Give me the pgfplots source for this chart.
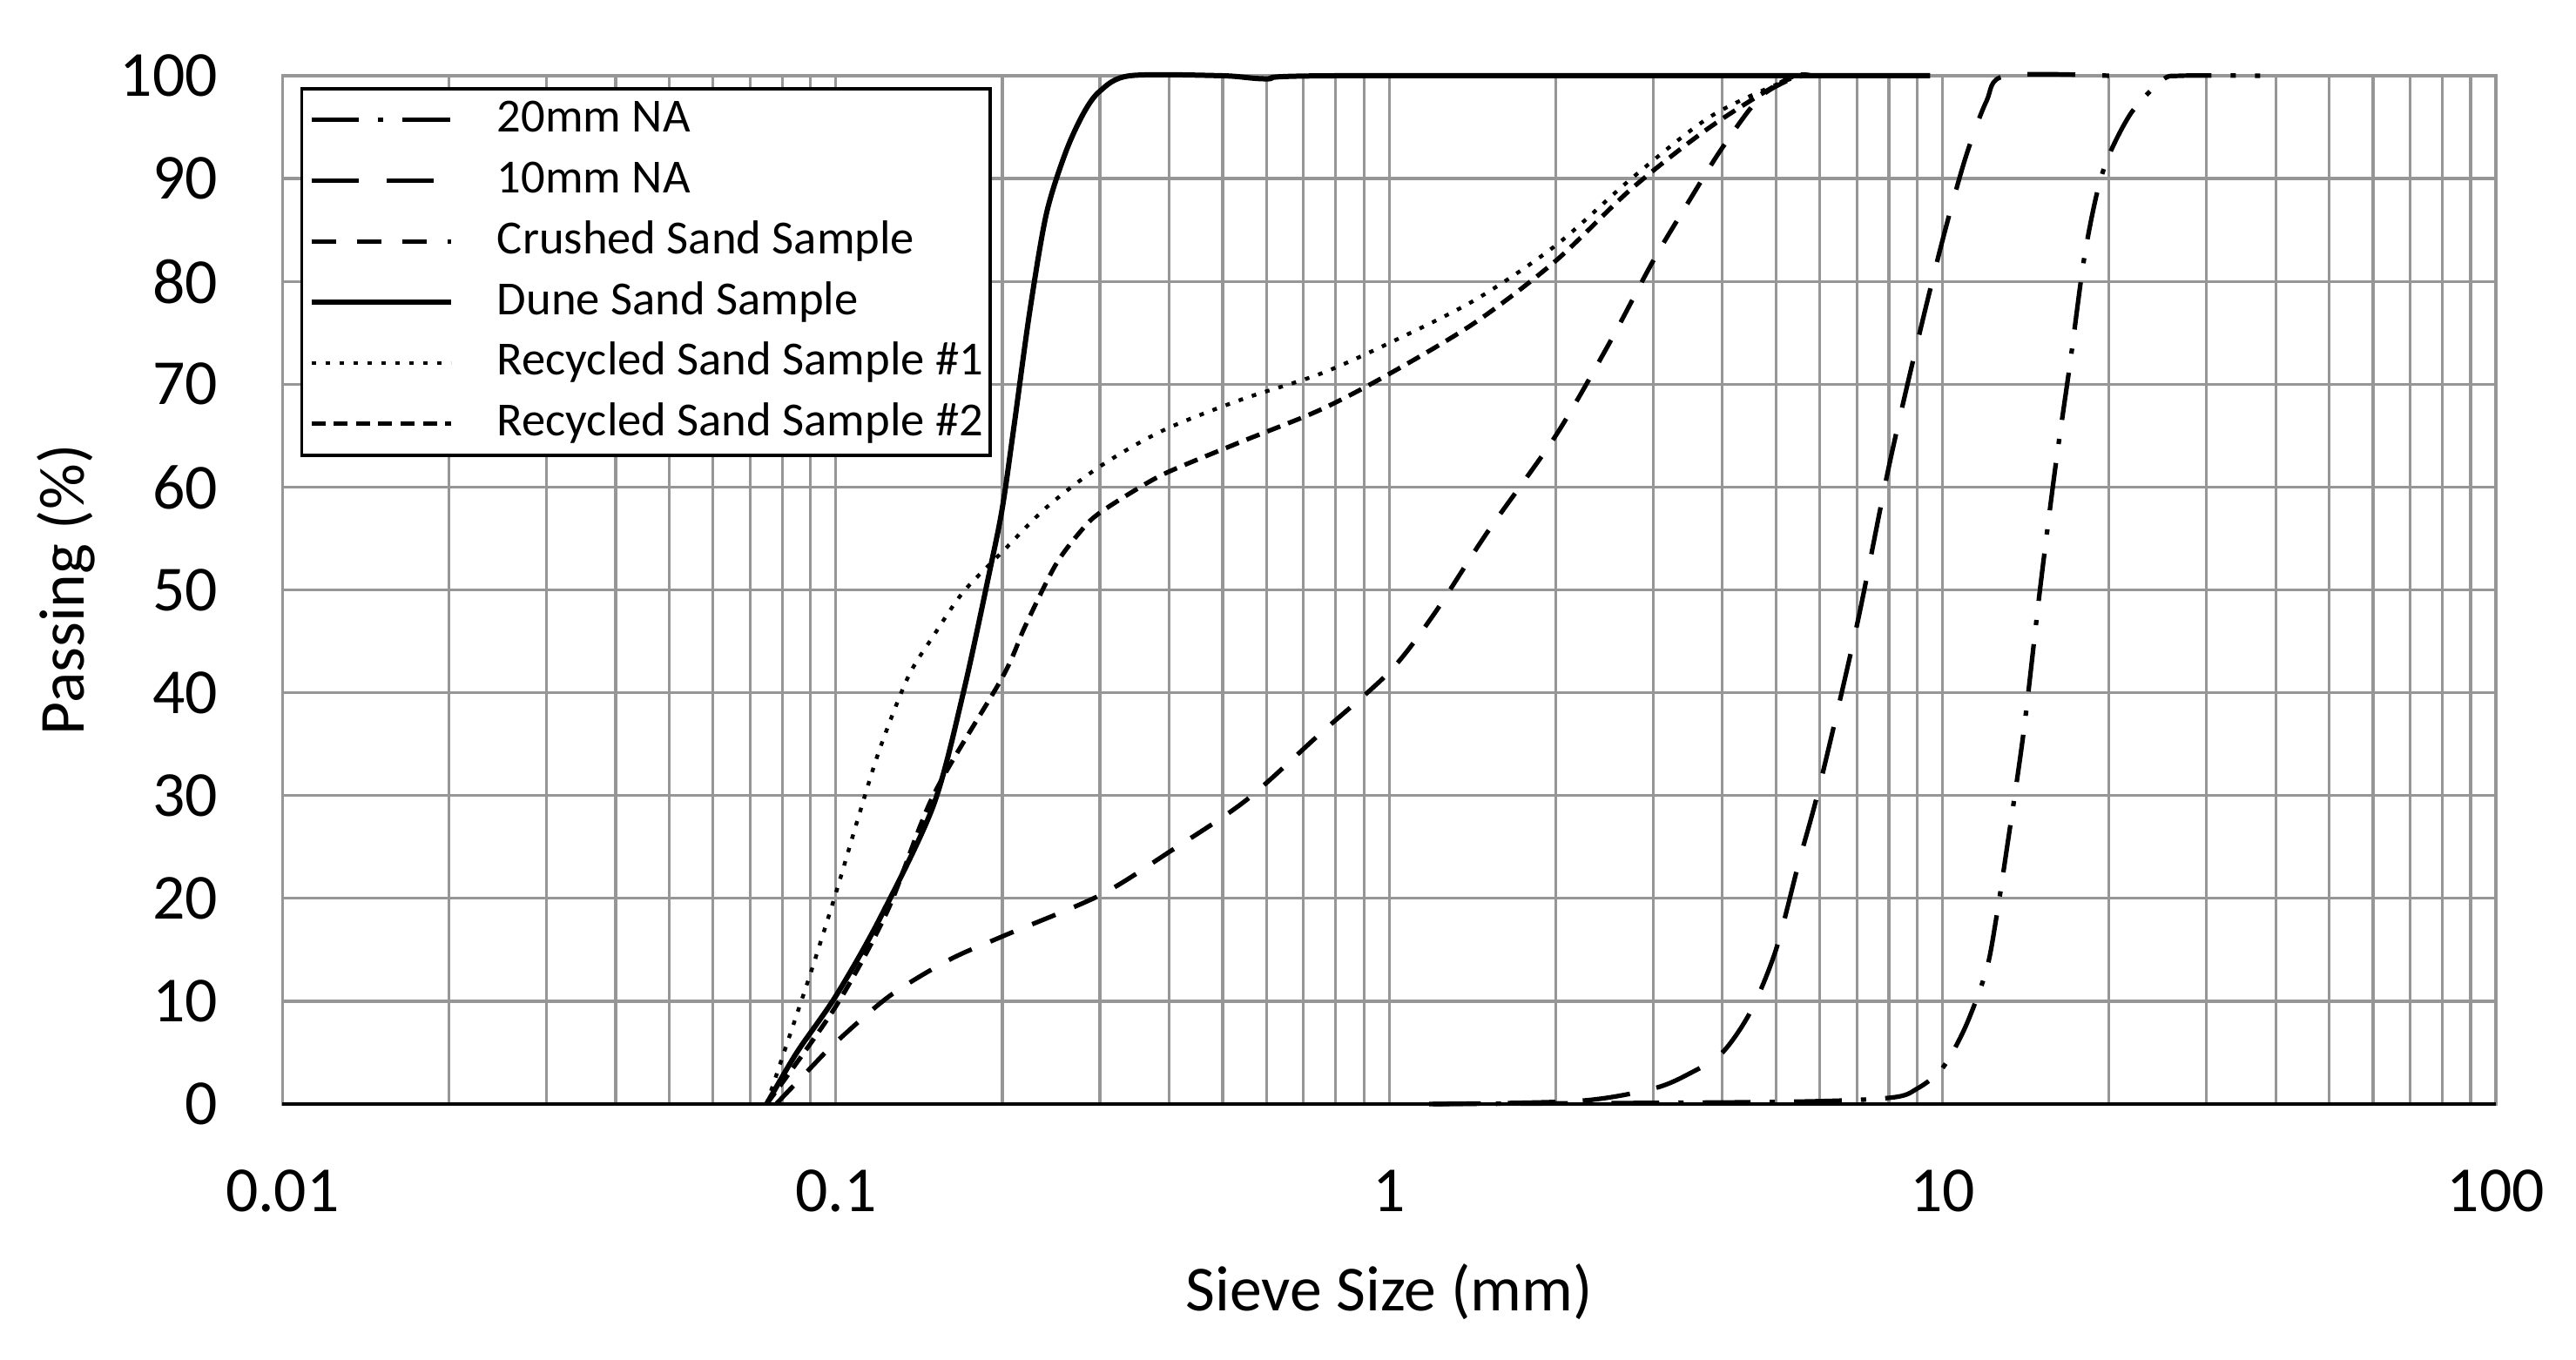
\documentclass[border=0pt]{standalone}
\usepackage{fontspec}
\setmainfont{Carlito}
\usepackage{pgfplots}
\pgfplotsset{compat=1.18}
\definecolor{gridc}{RGB}{150,150,150}
\begin{document}
\begin{tikzpicture}
\path[use as bounding box] (-81.1bp,-73.5bp) rectangle (658.4bp,317bp);
\begin{axis}[
 at={(0,0)}, anchor=south west,
 scale only axis, width=635.4bp, height=295.25bp,
 xmode=log, xmin=0.01, xmax=100, ymin=0, ymax=100,
 xtick={0.01,0.1,1,10,100}, xticklabels={0.01,0.1,1,10,100},
 minor xtick={0.02,0.03,0.04,0.05,0.06,0.07,0.08,0.09,0.2,0.3,0.4,0.5,0.6,0.7,0.8,0.9,2,3,4,5,6,7,8,9,20,30,40,50,60,70,80,90},
 ytick={0,10,...,100},
 grid=both,
 major grid style={gridc, line width=0.8bp},
 minor grid style={gridc, line width=0.8bp},
 axis line style={gridc, line width=0.8bp},
 major tick length=0pt, minor tick length=0pt,
 tick label style={font=\fontsize{18.5}{20}\selectfont},
 /pgf/number format/assume math mode=true,
 xticklabel style={anchor=center, yshift=-25bp, inner sep=0pt},
 yticklabel style={anchor=east, xshift=-18.4bp, inner sep=0pt},
 xlabel={Sieve Size (mm)}, ylabel={Passing (\%)},
 label style={font=\fontsize{18.5}{20}\selectfont},
 xlabel style={at={(axis description cs:0.5,-0.1829)}, anchor=center},
 ylabel style={at={(axis description cs:-0.0979,0.5)}, anchor=center},
 clip=false,
 legend cell align=left,
 legend style={at={(0.008,0.989)}, anchor=north west, draw=black, line width=0.9bp,
   font=\fontsize{13.7}{15}\selectfont, inner xsep=2bp, inner ysep=2.5bp, row sep=4.45bp,
   nodes={inner sep=0pt, text height=10bp, text depth=3bp},
   /tikz/every odd column/.append style={column sep=12.6bp}},
 legend image code/.code={\draw[#1] (0bp,0bp) -- (40bp,0bp);},
]
% 20mm NA
\addplot[black, line width=1.3bp, dash pattern=on 13.7bp off 5.5bp on 1.5bp off 5.5bp, smooth, tension=0.5] coordinates {
(1.18,0) (5,0.2) (8,0.6) (9,1.5) (10,3.5) (11,7.5) (12,13) (12.5,18) (13,24) (14,36) (15,50) (16,62) (17,72) (18,82) (19,88.5) (20,92.3) (22,96.5) (25,99.6) (27,100) (37.5,100)};
% 10mm NA
\addplot[black, line width=1.3bp, dash pattern=on 13.7bp off 7.8bp, smooth, tension=0.5] coordinates {
(1.2,0) (2.2,0.3) (3,1.5) (3.5,3) (4,5) (4.5,9) (5,15) (5.5,23.5) (6,31) (7,46.5) (8,62) (9,74) (10,84) (11,92) (12,97.5) (13,100) (20,100)};
% Crushed
\addplot[black, line width=1.3bp, dash pattern=on 7.2bp off 5.8bp, smooth, tension=0.5] coordinates {
(0.078,0) (0.09,3.5) (0.1,6) (0.125,10.5) (0.16,14) (0.2,16.3) (0.3,20.3) (0.4,24.5) (0.55,29.5) (0.75,36) (1,42) (1.2,47.5) (1.5,55.5) (2,65) (2.5,74) (3,82) (3.5,88) (4,93) (4.7,98) (5.5,100)};
% Dune
\addplot[black, line width=1.5bp, smooth, tension=0.5] coordinates {
(0.075,0) (0.085,5) (0.1,10.5) (0.12,18) (0.15,29) (0.17,40) (0.19,52) (0.2,58) (0.21,66) (0.224,77) (0.24,86.5) (0.26,92.5) (0.28,96.3) (0.3,98.5) (0.34,100) (0.5,100) (0.6,99.7) (0.8,100) (9.5,100)};
% Recycled 1
\addplot[black, line width=1.1bp, dash pattern=on 1.3bp off 2.7bp, smooth, tension=0.5] coordinates {
(0.075,0) (0.08,4.5) (0.09,12.7) (0.1,20.5) (0.11,28) (0.12,34.5) (0.135,41.5) (0.15,45.5) (0.17,49.8) (0.2,53.7) (0.24,58) (0.3,62) (0.39,65.5) (0.54,68.5) (0.75,71) (1,74) (1.43,78.2) (2,83.5) (2.74,90) (3.8,96) (5.2,99.5) (5.8,100)};
% Recycled 2
\addplot[black, line width=1.3bp, dash pattern=on 4bp off 2.4bp, smooth, tension=0.5] coordinates {
(0.075,0) (0.1,9.5) (0.124,18.8) (0.15,30) (0.2,41.5) (0.22,46.5) (0.25,52.5) (0.28,56) (0.3,57.5) (0.35,59.8) (0.4,61.5) (0.54,64.4) (0.75,67.5) (1,71) (1.43,76) (2,82) (2.74,89) (3.8,95) (5.25,99.7) (5.8,100)};
\draw[black, line width=1bp] (rel axis cs:0,0) -- (rel axis cs:1,0);
\legend{20mm NA, 10mm NA, Crushed Sand Sample, Dune Sand Sample, Recycled Sand Sample \#1, Recycled Sand Sample \#2}
\end{axis}
\end{tikzpicture}
\end{document}
